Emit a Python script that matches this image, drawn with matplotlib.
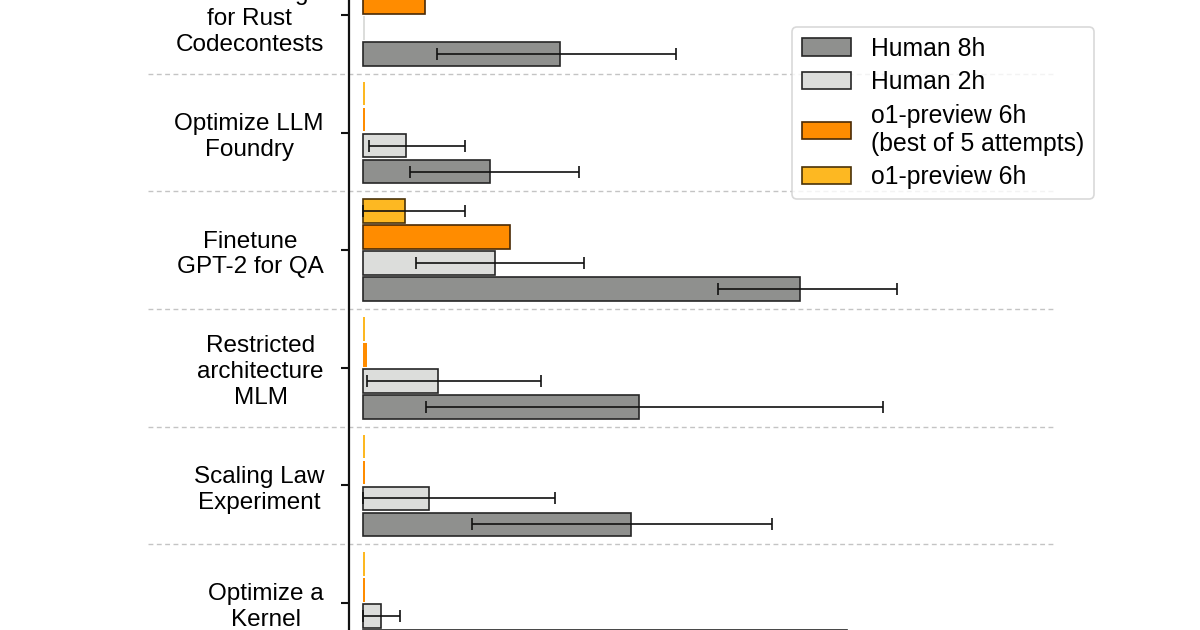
import numpy as np
import matplotlib
matplotlib.use("Agg")
import matplotlib.pyplot as plt
from matplotlib.patches import Patch

plt.rcParams['font.family'] = ['Liberation Sans', 'DejaVu Sans']

# ---- data (top group to bottom group) ----
tasks = ["Scaffolding\nfor Rust\nCodecontests",
         "Optimize LLM\nFoundry",
         "Finetune\nGPT-2 for QA",
         "Restricted\narchitecture\nMLM",
         "Scaling Law\nExperiment",
         "Optimize a\nKernel"]

human8 = [0.394, 0.254, 0.874, 0.551, 0.536, 0.967]
human8_lo = [0.148, 0.094, 0.709, 0.126, 0.218, np.nan]
human8_hi = [0.626, 0.432, 1.068, 1.040, 0.817, np.nan]

human2 = [0.003, 0.086, 0.263, 0.150, 0.132, 0.035]
human2_lo = [np.nan, 0.012, 0.105, 0.007, 0.0, 0.0]
human2_hi = [np.nan, 0.204, 0.441, 0.356, 0.384, 0.074]

o1_best = [0.124, 0.004, 0.294, 0.007, 0.004, 0.004]

o1 = [0.06, 0.004, 0.084, 0.004, 0.004, 0.004]
o1_lo = [np.nan, np.nan, 0.0, np.nan, np.nan, np.nan]
o1_hi = [np.nan, np.nan, 0.203, np.nan, np.nan, np.nan]

series = [
    # label, values, lo, hi, face, edge, slot (0 = top)
    ("o1-preview 6h", o1, o1_lo, o1_hi, "#fdb822", "#4a3208", 0),
    ("o1-preview 6h\n(best of 5 attempts)", o1_best, None, None, "#ff8c00", "#4a2a05", 1),
    ("Human 2h", human2, human2_lo, human2_hi, "#dcdddb", "#262626", 2),
    ("Human 8h", human8, human8_lo, human8_hi, "#8f908e", "#262626", 3),
]

# ---- figure ----
W, H = 1200, 630
fig = plt.figure(figsize=(W / 100, H / 100), dpi=100)
ax_left, ax_right = 349, 1053
ax_top_px, ax_bot_px = -60, 690
ax = fig.add_axes([ax_left / W, (H - ax_bot_px) / H,
                   (ax_right - ax_left) / W, (ax_bot_px - ax_top_px) / H])

px_per_unit_y = 117.6
y0_px = 15
ax.set_ylim((ax_bot_px - y0_px) / px_per_unit_y, (ax_top_px - y0_px) / px_per_unit_y)
xmin = -14 / 500
ax.set_xlim(xmin, xmin + (ax_right - ax_left) / 500)

y = np.arange(len(tasks))
step = 0.221
bh = 0.202
for label, vals, lo, hi, fc, ec, slot in series:
    vals = np.asarray(vals, float)
    pos = y + (slot - 1.5) * step
    edges = [ec if v >= 0.01 else "none" for v in vals]
    lws = [1.2 if v >= 0.01 else 0 for v in vals]
    ax.barh(pos, vals, height=bh, color=fc, edgecolor=edges, linewidth=lws, zorder=2)
    if lo is not None:
        lo = np.asarray(lo, float)
        hi = np.asarray(hi, float)
        m = ~np.isnan(lo)
        xerr = np.vstack([vals[m] - lo[m], hi[m] - vals[m]])
        ax.errorbar(vals[m], pos[m], xerr=xerr, fmt="none", ecolor="#111111",
                    elinewidth=1.2, capsize=4, capthick=1.2, zorder=3)

# group separators (extend left past the axis)
for s in np.arange(-0.5, len(tasks) + 0.5, 1.0):
    ax.plot([-0.285, 1.0], [s, s], transform=ax.get_yaxis_transform(),
            color="#c4c4c4", lw=1.0, ls=(0, (3.5, 2.5)), clip_on=False, zorder=1)

ax.set_yticks(y)
ax.set_yticklabels(tasks, fontsize=17.5)
for t in ax.get_yticklabels():
    t.set_multialignment("center")
    t.set_linespacing(1.22)
ax.tick_params(axis="y", length=6, width=1.5, pad=12, color="#111111")
ax.set_xticks([])
for sp in ["top", "right", "bottom"]:
    ax.spines[sp].set_visible(False)
ax.spines["left"].set_linewidth(1.6)
ax.spines["left"].set_color("#111111")

handles = [Patch(facecolor=s[4], edgecolor=s[5], linewidth=1.2) for s in series[::-1]]
labels = [s[0] for s in series[::-1]]
leg = fig.legend(handles, labels, loc="upper left",
                 bbox_to_anchor=(792 / W, 1 - 27 / H), bbox_transform=fig.transFigure,
                 fontsize=17.8, frameon=True, fancybox=True, borderaxespad=0,
                 handlelength=2.0, handleheight=0.72, handletextpad=0.78,
                 labelspacing=0.38, borderpad=0.4)
leg.get_frame().set_edgecolor("#d0d0d0")
leg.get_frame().set_linewidth(1.2)
for t in leg.get_texts():
    t.set_linespacing(1.22)

fig.savefig("out.png", dpi=100)
